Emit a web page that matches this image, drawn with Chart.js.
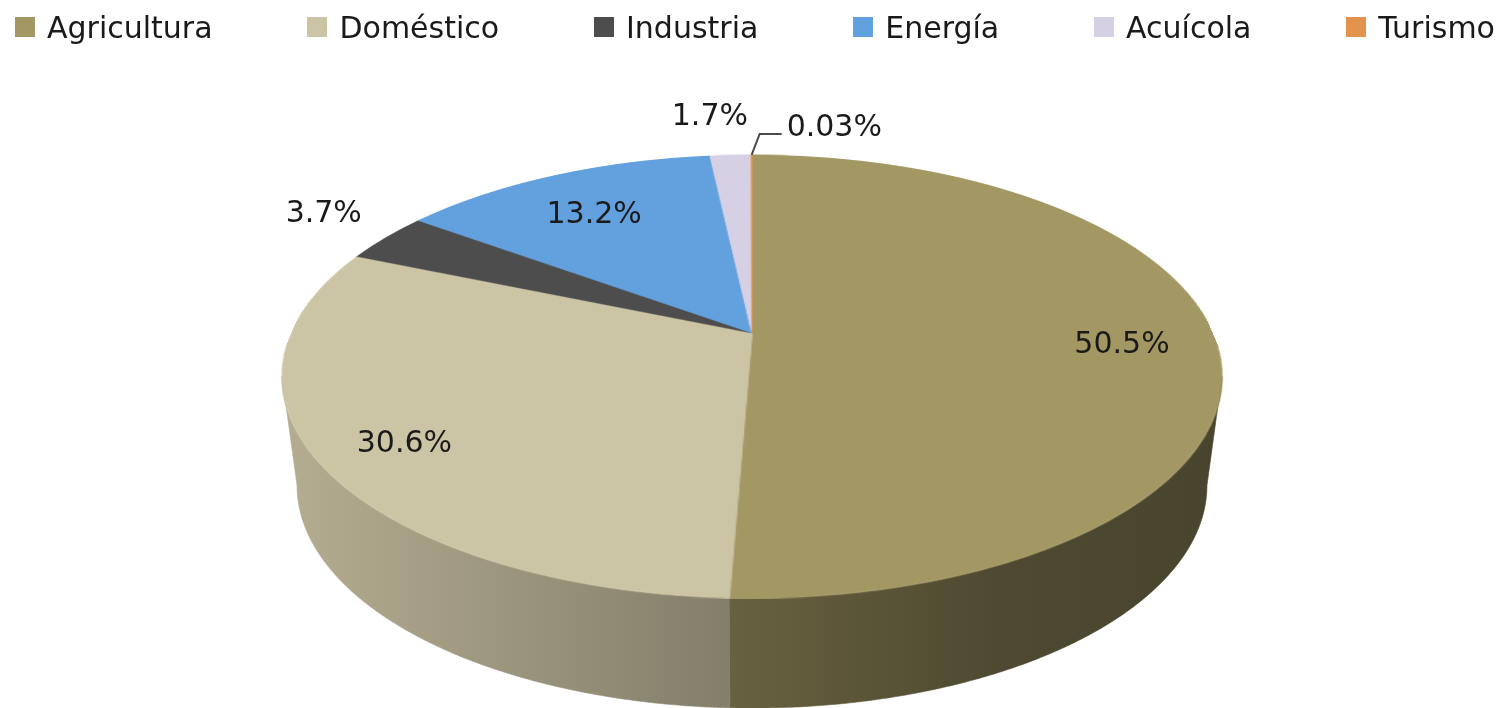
<!DOCTYPE html>
<html>
<head>
<meta charset="utf-8">
<script src="https://cdn.jsdelivr.net/npm/chart.js@4.4.1/dist/chart.umd.min.js"></script>
<style>
  html, body { margin: 0; padding: 0; background: #ffffff; }
  #wrap { position: relative; width: 1511px; height: 708px; overflow: hidden; background: #fff; }
  #chart { position: absolute; left: 0; top: 0; }
  #legend {
    position: absolute; left: 0; top: 0; width: 1511px; height: 54px;
    box-sizing: border-box; padding: 0 16px 0 15px;
    display: flex; justify-content: space-between; align-items: center;
    font-family: 'DejaVu Sans', sans-serif; font-size: 30px; color: #1a1a1a;
  }
  .item { display: flex; align-items: center; white-space: nowrap; }
  .box { width: 20px; height: 20px; margin-right: 12px; flex: none; }
</style>
</head>
<body>
<div id="wrap">
  <canvas id="chart" width="1511" height="708"></canvas>
  <div id="legend"></div>
</div>
<script>
// ---------- data ----------
const CATEGORIES = ['Agricultura', 'Doméstico', 'Industria', 'Energía', 'Acuícola', 'Turismo'];
const SHARES = [50.5, 30.6, 3.7, 13.2, 1.7, 0.03];
const SLICE_COLORS = ['#A39864', '#CCC5A5', '#4D4D4D', '#62A0DE', '#D6D0E4', '#E3944C'];

// ---------- 3D view (perspective tilt of the pie plane) ----------
const VIEW = { cx: 752, cy0: 333, a: 460.8, b: 213, k: 0.1964, depth: 109, botSX: 455 / 470, botSY: 222 / 221 };
const TOP_Y = VIEW.cy0 - VIEW.b / (1 + VIEW.k);
const BOT_Y = VIEW.cy0 + VIEW.b / (1 - VIEW.k);
const ELL = { cy: (TOP_Y + BOT_Y) / 2, ry: (BOT_Y - TOP_Y) / 2, rx: VIEW.a / Math.sqrt(1 - VIEW.k * VIEW.k) };
const WALL_LIGHT = [[0, 0.88], [0.48, 0.64], [0.76, 0.48], [1, 0.45]];
const LABEL_FONT = '30px "DejaVu Sans", sans-serif';
const INSIDE_FACTOR = 0.8, OUTSIDE_FACTOR = 1.17;

function project(u, v) {
  const s = 1 - VIEW.k * v;
  return { x: VIEW.cx + VIEW.a * u / s, y: VIEW.cy0 + VIEW.b * v / s };
}
function bottomOf(p) {
  return { x: VIEW.cx + (p.x - VIEW.cx) * VIEW.botSX, y: ELL.cy + VIEW.depth + (p.y - ELL.cy) * VIEW.botSY };
}
function shade(hex, f) {
  const n = parseInt(hex.slice(1), 16);
  const r = Math.round(((n >> 16) & 255) * f), g = Math.round(((n >> 8) & 255) * f), b = Math.round((n & 255) * f);
  return `rgb(${r},${g},${b})`;
}

const pie3d = {
  id: 'pie3d',
  afterDatasetsDraw(chart) {
    const ctx = chart.ctx;
    const arcs = chart.getDatasetMeta(0).data;
    const ex = arcs[0].x, ey = arcs[0].y, R = arcs[0].outerRadius;
    const pad = 2, size = Math.ceil(2 * R + 2 * pad);
    const dpr = chart.currentDevicePixelRatio || 1;
    const off = document.createElement('canvas');
    off.width = size; off.height = size;
    const octx = off.getContext('2d');
    octx.drawImage(chart.canvas, (ex - R - pad) * dpr, (ey - R - pad) * dpr, size * dpr, size * dpr, 0, 0, size, size);
    ctx.save();
    ctx.setTransform(1, 0, 0, 1, 0, 0);
    ctx.clearRect(0, 0, chart.canvas.width, chart.canvas.height);
    ctx.restore();

    // side walls (front half only)
    const tL = Math.asin(VIEW.k), tR = Math.PI - tL;
    const x0 = VIEW.cx - ELL.rx, x1 = VIEW.cx + ELL.rx;
    arcs.forEach((arc, i) => {
      const a = Math.max(arc.startAngle, tL), b = Math.min(arc.endAngle, tR);
      if (b <= a) return;
      const n = Math.max(2, Math.ceil((b - a) * 160));
      const top = [], bot = [];
      for (let j = 0; j <= n; j++) {
        const t = a + (b - a) * j / n;
        const p = project(Math.cos(t), Math.sin(t));
        top.push(p); bot.push(bottomOf(p));
      }
      const g = ctx.createLinearGradient(x0, 0, x1, 0);
      WALL_LIGHT.forEach(([t, f]) => g.addColorStop(t, shade(SLICE_COLORS[i], f)));
      ctx.beginPath();
      top.forEach((p, j) => j ? ctx.lineTo(p.x, p.y) : ctx.moveTo(p.x, p.y));
      for (let j = n; j >= 0; j--) ctx.lineTo(bot[j].x, bot[j].y);
      ctx.closePath();
      ctx.fillStyle = g; ctx.fill();
      ctx.strokeStyle = g; ctx.lineWidth = 0.6; ctx.stroke();
    });

    // top face: perspective warp of the library-drawn pie, row by row
    const c = R + pad;
    for (let Y = Math.floor(TOP_Y); Y < Math.ceil(BOT_Y); Y++) {
      const d = Y + 0.5 - VIEW.cy0;
      let v = d / (VIEW.b + VIEW.k * d);
      v = Math.max(-1, Math.min(1, v));
      const W = VIEW.a / (1 - VIEW.k * v);
      const h = R * VIEW.b / Math.pow(VIEW.b + VIEW.k * d, 2);
      const sy = c + v * R - h / 2;
      ctx.drawImage(off, c - R, sy, 2 * R, h, VIEW.cx - W, Y, 2 * W, 1);
    }
  },
  afterDraw(chart) {
    const ctx = chart.ctx;
    const arcs = chart.getDatasetMeta(0).data;
    const total = SHARES.reduce((s, v) => s + v, 0);
    ctx.save();
    ctx.font = LABEL_FONT;
    ctx.fillStyle = '#1a1a1a';
    ctx.textBaseline = 'middle';
    arcs.forEach((arc, i) => {
      const frac = SHARES[i] / total;
      const mid = (arc.startAngle + arc.endAngle) / 2;
      const text = SHARES[i] + '%';
      const edge = project(Math.cos(mid), Math.sin(mid));
      const towards = f => ({ x: VIEW.cx + f * (edge.x - VIEW.cx), y: ELL.cy + f * (edge.y - ELL.cy) });
      if (frac >= 0.1) {
        const p = towards(INSIDE_FACTOR);
        ctx.textAlign = 'center';
        ctx.fillText(text, p.x, p.y);
      } else if (frac >= 0.005) {
        const p = towards(OUTSIDE_FACTOR);
        const w = ctx.measureText(text).width;
        let x = p.x;
        if (Math.cos(mid) < 0) x = Math.min(x, VIEW.cx - 4 - w / 2);
        ctx.textAlign = 'center';
        ctx.fillText(text, x, p.y);
      } else {
        const p0 = edge;
        const p1 = { x: p0.x + 8, y: p0.y - 21 };
        const p2 = { x: p1.x + 22, y: p1.y };
        ctx.beginPath();
        ctx.moveTo(p0.x, p0.y); ctx.lineTo(p1.x, p1.y); ctx.lineTo(p2.x, p2.y);
        ctx.strokeStyle = '#4a4a4a'; ctx.lineWidth = 2; ctx.stroke();
        ctx.textAlign = 'left';
        ctx.fillText(text, p2.x + 5, p2.y - 6);
      }
    });
    ctx.restore();
  }
};

const chart = new Chart(document.getElementById('chart'), {
  type: 'pie',
  data: {
    labels: CATEGORIES,
    datasets: [{
      data: SHARES,
      backgroundColor: SLICE_COLORS,
      borderColor: SLICE_COLORS,
      borderWidth: 1,
      clip: false
    }]
  },
  options: {
    responsive: false,
    devicePixelRatio: 1,
    animation: false,
    events: [],
    layout: { padding: 0 },
    plugins: { legend: { display: false }, tooltip: { enabled: false } }
  },
  plugins: [pie3d]
});

// HTML legend built from the chart's own legend items
(function buildLegend() {
  let items;
  try { items = chart.options.plugins.legend.labels.generateLabels(chart); } catch (e) { items = null; }
  if (!items || !items.length) items = CATEGORIES.map((t, i) => ({ text: t, fillStyle: SLICE_COLORS[i] }));
  const el = document.getElementById('legend');
  items.forEach(it => {
    const d = document.createElement('div'); d.className = 'item';
    const b = document.createElement('span'); b.className = 'box'; b.style.background = it.fillStyle;
    const s = document.createElement('span'); s.textContent = it.text;
    d.appendChild(b); d.appendChild(s); el.appendChild(d);
  });
})();
</script>
</body>
</html>
